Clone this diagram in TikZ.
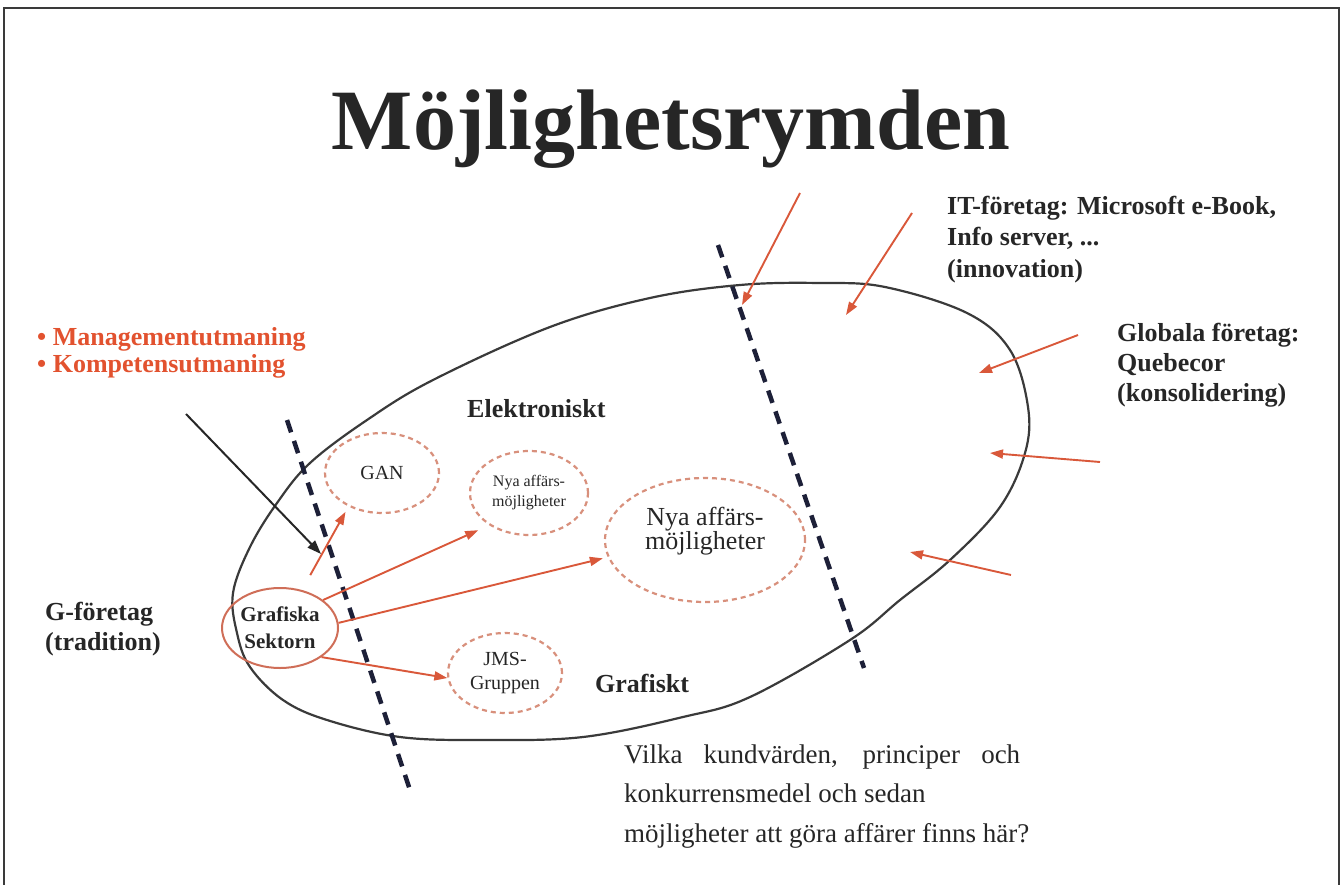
\documentclass[tikz,border=0pt]{standalone}
\usepackage{fontspec}
\setmainfont{Liberation Serif}
\usetikzlibrary{arrows.meta,shapes.geometric}

\definecolor{inkgray}{HTML}{262626}
\definecolor{framegray}{HTML}{3A3A3A}
\definecolor{arrowred}{HTML}{D9583A}
\definecolor{labelred}{HTML}{E2522F}
\definecolor{salmon}{HTML}{D8907C}
\definecolor{sectorred}{HTML}{CF6E58}
\definecolor{navy}{HTML}{1D2038}

\tikzset{
  frame/.style={draw=framegray, line width=2.6pt},
  outline/.style={draw=framegray, line width=2.2pt},
  divider/.style={draw=navy, line width=4.5pt, dash pattern=on 13pt off 9pt},
  inflow/.style={draw=arrowred, line width=1.9pt, -{Triangle[length=13pt,width=9pt]}},
  pushblack/.style={draw=inkgray, line width=2pt, -{Triangle[length=14pt,width=10pt]}},
  chance/.style={ellipse, draw=salmon, line width=2.2pt, dash pattern=on 5pt off 4pt,
                 inner sep=0pt, align=center, text=inkgray},
  sector/.style={ellipse, draw=sectorred, line width=2pt, inner sep=0pt,
                 align=center, text=inkgray},
  boldlabel/.style={anchor=base west, inner sep=0pt, text=inkgray,
                    font=\fontsize{26}{30}\selectfont\bfseries},
  redlabel/.style={anchor=base west, inner sep=0pt, text=labelred,
                   font=\fontsize{26}{30}\selectfont\bfseries},
  arealabel/.style={anchor=base west, inner sep=0pt, text=inkgray,
                    font=\fontsize{26}{30}\selectfont\bfseries},
  bodytext/.style={anchor=base west, inner sep=0pt, text=inkgray,
                   font=\fontsize{27}{40}\selectfont},
}

\begin{document}
\begin{tikzpicture}[x=1pt,y=-1pt]
\useasboundingbox (0,0) rectangle (1343,885);

% slide frame (open at the bottom)
\draw[frame] (4,885) -- (4,8) -- (1339,8) -- (1339,885);

% title
\node[anchor=base, inner sep=0pt, text=inkgray,
      font=\fontsize{86}{90}\selectfont\bfseries] (title) at (671,150) {Möjlighetsrymden};

% the space of opportunities
\draw[outline] plot[smooth cycle, tension=0.6] coordinates {
  (650,298) (740,285) (820,283) (885,287) (967,313) (1010,350) (1028,407)
  (1025,453) (1000,507) (950,560) (900,600) (850,640) (750,697) (683,717)
  (583,737) (483,740) (400,737) (327,720) (283,700) (250,667) (237,633)
  (233,593) (250,547) (277,503) (310,463) (367,420) (433,380) (550,327)};

% dividing lines
\coordinate (d1a) at (287,420);
\coordinate (d1b) at (410,790);
\coordinate (d2a) at (718,245);
\coordinate (d2b) at (864,668);
\draw[divider] (d1a) -- (d1b);
\draw[divider] (d2a) -- (d2b);

% opportunity ellipses
\node[chance, minimum width=114pt, minimum height=80pt,
      font=\fontsize{20}{24}\selectfont] (gan) at (382,473) {GAN};
\node[chance, minimum width=118pt, minimum height=84pt,
      font=\fontsize{16}{20}\selectfont] (nya1) at (529,493) {Nya affärs-\\möjligheter};
\node[chance, minimum width=200pt, minimum height=124pt,
      label={[yshift=9pt, inner sep=0pt, text=inkgray, align=center,
              font=\fontsize{26}{22}\selectfont]center:Nya affärs-\\möjligheter}] (nya2) at (705,540) {};
\node[chance, minimum width=114pt, minimum height=80pt,
      font=\fontsize{20}{24}\selectfont] (jms) at (505,673) {JMS-\\Gruppen};

% the graphic sector
\node[sector, minimum width=116pt, minimum height=80pt,
      font=\fontsize{21}{27}\selectfont\bfseries] (gs) at (280,628) {Grafiska\\Sektorn};

% moves of the graphic sector
\draw[inflow, shorten <=17pt, shorten >=6pt] (gs.60) -- (gan.225);
\draw[inflow, shorten >=12pt] (gs.33) -- (nya1.219);
\draw[inflow, shorten >=5pt] (gs.5) -- (nya2.190);
\draw[inflow] (gs.-35) -- (jms.185);

% pressure from outside
\coordinate (r1a) at (800,193);  \coordinate (r1b) at (742,305);
\coordinate (r2a) at (912,213);  \coordinate (r2b) at (846,315);
\coordinate (r3a) at (1078,335); \coordinate (r3b) at (979,373);
\coordinate (r4a) at (1100,462); \coordinate (r4b) at (990,453);
\coordinate (r5a) at (1011,575); \coordinate (r5b) at (910,552);
\draw[inflow] (r1a) -- (r1b);
\draw[inflow] (r2a) -- (r2b);
\draw[inflow] (r3a) -- (r3b);
\draw[inflow] (r4a) -- (r4b);
\draw[inflow] (r5a) -- (r5b);

% management challenge arrow
\coordinate (bka) at (186,414);
\coordinate (bkb) at (321,554);
\draw[pushblack] (bka) -- (bkb);

% actor labels
\node[boldlabel] (it1) at (947,215) {IT-företag: Microsoft e-Book,};
\node[boldlabel] (it2) at (947,246) {Info server, ...};
\node[boldlabel] (it3) at (947,277) {(innovation)};
\node[boldlabel] (gl1) at (1117,341) {Globala företag:};
\node[boldlabel] (gl2) at (1117,371) {Quebecor};
\node[boldlabel] (gl3) at (1117,401) {(konsolidering)};
\node[boldlabel] (gf1) at (45,620) {G-företag};
\node[boldlabel] (gf2) at (45,650) {(tradition)};

\node[redlabel] (ch1) at (37,345) {• Managementutmaning};
\node[redlabel] (ch2) at (37,372) {• Kompetensutmaning};

% area labels
\node[arealabel] (elek) at (467,417) {Elektroniskt};
\node[arealabel] (graf) at (595,692) {Grafiskt};

% question
\node[bodytext] (q1) at (624,763) {\makebox[396pt][s]{Vilka kundvärden, principer och}};
\node[bodytext] (q2) at (624,802) {konkurrensmedel och sedan};
\node[bodytext] (q3) at (624,842) {möjligheter att göra affärer finns här?};
\end{tikzpicture}
\end{document}
